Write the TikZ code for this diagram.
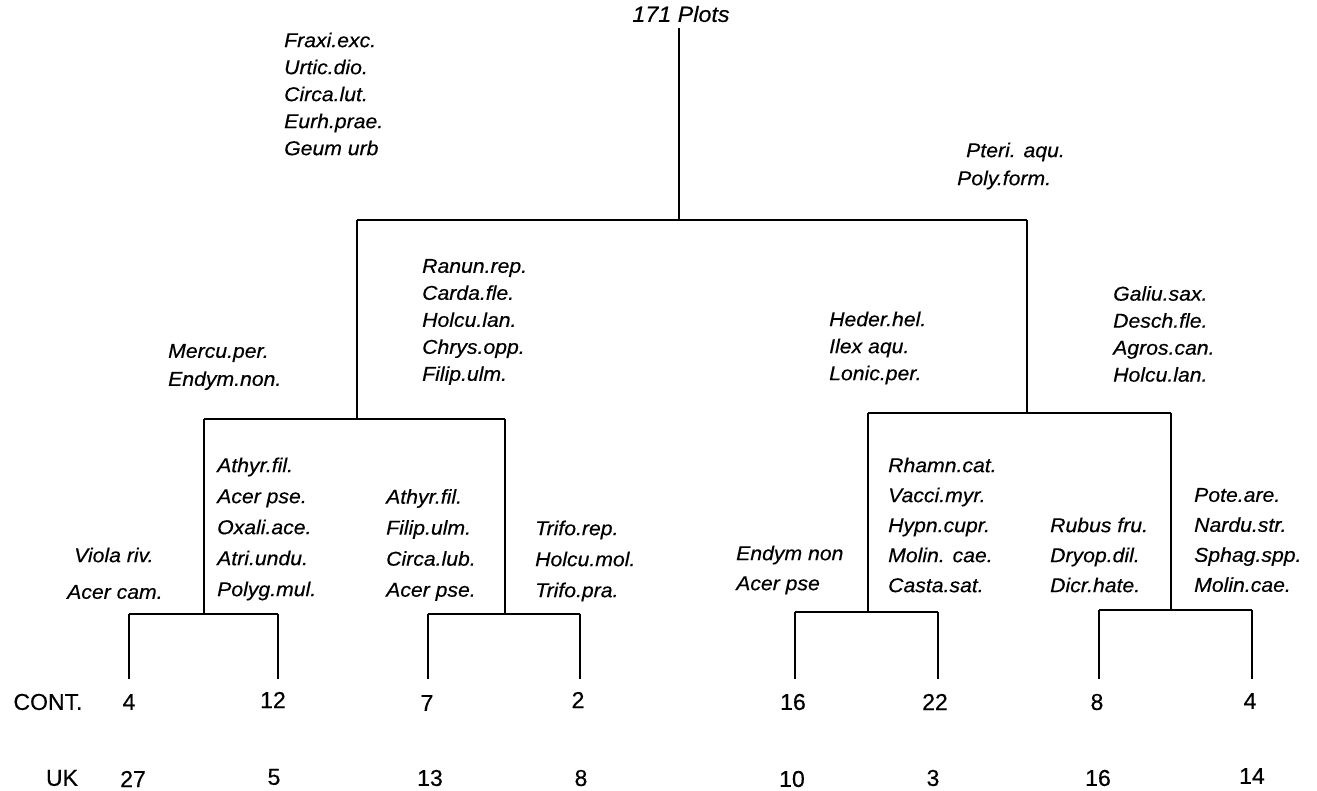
\documentclass[tikz,border=0pt]{standalone}
\usepackage{fontspec}
\setmainfont{Liberation Sans}
\newfontfamily\spfont[FakeStretch=1.06,FakeBold=0.4]{Liberation Sans}
\newfontfamily\nmfont[FakeBold=0.4]{Liberation Sans}
\begin{document}
\begin{tikzpicture}[x=1pt,y=-1pt,
  br/.style={line width=1.7pt},
  sp/.style={font=\spfont\itshape\fontsize{20}{27}\selectfont, align=left, anchor=west, inner sep=0pt},
  spl/.style={font=\spfont\itshape\fontsize{20}{31}\selectfont, align=left, anchor=west, inner sep=0pt},
  num/.style={font=\nmfont\fontsize{23}{26}\selectfont, inner sep=0pt}]
\useasboundingbox (0,0) rectangle (1317,791);
% title
\node[font=\spfont\itshape\fontsize{22}{24}\selectfont, inner sep=0pt] (title) at (681,14) {171 Plots};
% branch points
\coordinate (r0) at (679,28);
\coordinate (r) at (679,220);
\coordinate (a) at (357,220);
\coordinate (b) at (1027,220);
\coordinate (a1) at (357,419);
\coordinate (b1) at (1027,413);
\coordinate (aa) at (204,419);
\coordinate (ab) at (505,419);
\coordinate (ba) at (868,413);
\coordinate (bb) at (1171,413);
\coordinate (aa1) at (204,614);
\coordinate (ab1) at (505,614);
\coordinate (ba1) at (868,612);
\coordinate (bb1) at (1171,610);
\foreach \n/\x/\y in {l1/129/614,l2/278/614,l3/428/614,l4/580/614,l5/795/612,l6/938/612,l7/1099/610,l8/1252/610}{
  \coordinate (\n) at (\x,\y);
  \coordinate (\n e) at (\x,679);
}
\draw[br] (r0) -- (r);
\draw[br] (a) -- (b);
\draw[br] (a) -- (a1);
\draw[br] (b) -- (b1);
\draw[br] (aa) -- (ab);
\draw[br] (ba) -- (bb);
\draw[br] (aa) -- (aa1);
\draw[br] (ab) -- (ab1);
\draw[br] (ba) -- (ba1);
\draw[br] (bb) -- (bb1);
\draw[br] (l1) -- (l2);
\draw[br] (l3) -- (l4);
\draw[br] (l5) -- (l6);
\draw[br] (l7) -- (l8);
\foreach \n in {l1,l2,l3,l4,l5,l6,l7,l8}{\draw[br] (\n) -- (\n e);}
% species lists
\node[sp] (s1) at (284,94) {Fraxi.exc.\\Urtic.dio.\\Circa.lut.\\Eurh.prae.\\Geum urb};
\node[sp] (s2a) at (966,152) {Pteri. aqu.};
\node[sp] (s2b) at (957,180) {Poly.form.};
\node[sp] (s3) at (422,322) {Ranun.rep.\\Carda.fle.\\Holcu.lan.\\Chrys.opp.\\Filip.ulm.};
\node[sp, font=\spfont\itshape\fontsize{20}{28}\selectfont] (s4) at (168,367) {Mercu.per.\\Endym.non.};
\node[sp] (s5) at (829,348) {Heder.hel.\\Ilex aqu.\\Lonic.per.};
\node[sp] (s6) at (1113,334) {Galiu.sax.\\Desch.fle.\\Agros.can.\\Holcu.lan.};
\node[spl] (s7) at (217,529) {Athyr.fil.\\Acer pse.\\Oxali.ace.\\Atri.undu.\\Polyg.mul.};
\node[spl] (s8) at (386,545) {Athyr.fil.\\Filip.ulm.\\Circa.lub.\\Acer pse.};
\node[spl] (s9) at (535,561) {Trifo.rep.\\Holcu.mol.\\Trifo.pra.};
\node[sp] (s10a) at (74,555) {Viola riv.};
\node[sp] (s10b) at (67,592) {Acer cam.};
\node[spl, font=\spfont\itshape\fontsize{20}{30}\selectfont] (s11) at (736,570) {Endym non\\Acer pse};
\node[spl, font=\spfont\itshape\fontsize{20}{30}\selectfont] (s12) at (888,525) {Rhamn.cat.\\Vacci.myr.\\Hypn.cupr.\\Molin. cae.\\Casta.sat.};
\node[spl, font=\spfont\itshape\fontsize{20}{30}\selectfont] (s13) at (1050,555) {Rubus fru.\\Dryop.dil.\\Dicr.hate.};
\node[spl, font=\spfont\itshape\fontsize{20}{30}\selectfont] (s14) at (1194,540) {Pote.are.\\Nardu.str.\\Sphag.spp.\\Molin.cae.};
% counts
\node[num] (cont) at (48,702) {CONT.};
\node[num] (uk) at (62,778) {UK};
\node[num] (c1) at (129,702) {4};
\node[num] (c2) at (273,700) {12};
\node[num] (c3) at (427,703) {7};
\node[num] (c4) at (578,700) {2};
\node[num] (c5) at (793,702) {16};
\node[num] (c6) at (935,702) {22};
\node[num] (c7) at (1097,702) {8};
\node[num] (c8) at (1250,701) {4};
\node[num] (u1) at (133,779) {27};
\node[num] (u2) at (274,777) {5};
\node[num] (u3) at (430,778) {13};
\node[num] (u4) at (581,778) {8};
\node[num] (u5) at (792,779) {10};
\node[num] (u6) at (933,778) {3};
\node[num] (u7) at (1098,778) {16};
\node[num] (u8) at (1252,776) {14};
\end{tikzpicture}
\end{document}
